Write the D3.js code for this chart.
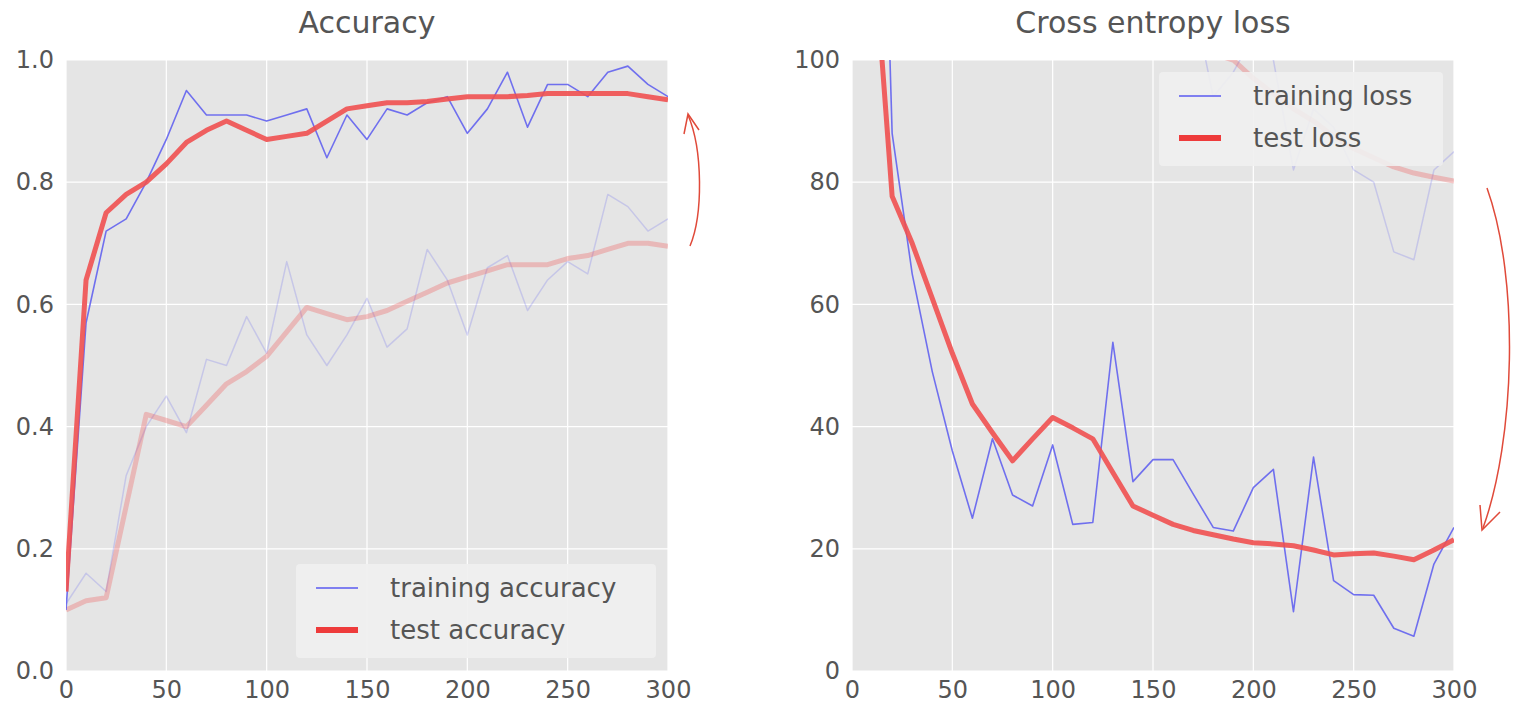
<!DOCTYPE html>
<html><head><meta charset="utf-8">
<script src="https://cdn.jsdelivr.net/npm/d3@7"></script>
<style>body{margin:0;background:#fff;font-family:"DejaVu Sans",sans-serif}</style>
</head><body><svg id="c" width="1530" height="716"></svg>
<script>
// steps 0..300, every 10
const steps = d3.range(0, 301, 10);
const trainAcc = [0.10,0.57,0.72,0.74,0.80,0.87,0.95,0.91,0.91,0.91,0.90,0.91,0.92,0.84,0.91,0.87,0.92,0.91,0.93,0.94,0.88,0.92,0.98,0.89,0.96,0.96,0.94,0.98,0.99,0.96,0.94];
const testAcc = [0.13,0.64,0.75,0.78,0.80,0.83,0.865,0.885,0.90,0.885,0.87,0.875,0.88,0.90,0.92,0.925,0.93,0.93,0.932,0.936,0.94,0.94,0.94,0.942,0.945,0.945,0.945,0.945,0.945,0.94,0.935];
const trainAccOld = [0.11,0.16,0.13,0.32,0.40,0.45,0.39,0.51,0.50,0.58,0.52,0.67,0.55,0.50,0.55,0.61,0.53,0.56,0.69,0.64,0.55,0.66,0.68,0.59,0.64,0.67,0.65,0.78,0.76,0.72,0.74];
const testAccOld = [0.10,0.115,0.12,0.27,0.42,0.41,0.40,0.435,0.47,0.49,0.515,0.555,0.595,0.585,0.575,0.58,0.59,0.605,0.62,0.635,0.645,0.655,0.665,0.665,0.665,0.675,0.68,0.69,0.70,0.70,0.695];
const trainLoss = [260,200,88,65,49,36,25,38,28.8,27,37,24,24.3,53.8,31,34.6,34.6,29,23.5,22.9,30,33,9.7,35,14.8,12.5,12.4,7,5.7,17.5,23.5];
const testLoss = [250,122,77.7,70,61,52,43.7,39,34.4,38,41.5,39.8,38,32.5,27,25.5,24,23,22.3,21.6,21,20.8,20.5,19.8,19,19.2,19.3,18.8,18.2,19.8,21.5];
const trainLossOld = [420,330,260,220,200,180,165,150,140,130,125,120,118,115,112,110,108,110,94,98,104,100,82,92,89,82,80,68.6,67.3,82,85];
const testLossOld = [400,300,240,200,180,165,152,142,135,128,122,117,113,110,107,105,103.5,102,101,100,97,94.5,92,90,87.5,85.5,84,82.5,81.5,80.8,80.2];
const accTicks = [0,0.2,0.4,0.6,0.8,1.0];
const lossTicks = [0,20,40,60,80,100];
const xTicks = [0,50,100,150,200,250,300];

const svg = d3.select("#c");
const blue = "#5a5af0", red = "#f05050", txt = "#555";

function panel(x0, title, yDomain, yTicks, fmt, series, legend, id) {
  const x = d3.scaleLinear().domain([0,300]).range([x0, x0+602]);
  const y = d3.scaleLinear().domain(yDomain).range([671, 60]);
  svg.append("rect").attr("x", x0).attr("y", 60).attr("width", 602).attr("height", 611).attr("fill", "#e5e5e5");
  svg.append("clipPath").attr("id", id).append("rect").attr("x", x0).attr("y", 60).attr("width", 602).attr("height", 611);
  const g = svg.append("g");
  g.selectAll(".gx").data(xTicks).join("line").attr("x1", d => x(d)).attr("x2", d => x(d)).attr("y1", 60).attr("y2", 671).attr("stroke", "#fff").attr("stroke-width", 1.2);
  g.selectAll(".gy").data(yTicks).join("line").attr("y1", d => y(d)).attr("y2", d => y(d)).attr("x1", x0).attr("x2", x0+602).attr("stroke", "#fff").attr("stroke-width", 1.2);
  const ax = svg.append("g").attr("transform", "translate(0,671)").call(d3.axisBottom(x).tickValues(xTicks).tickSize(0).tickPadding(10));
  const ay = svg.append("g").attr("transform", `translate(${x0},0)`).call(d3.axisLeft(y).tickValues(yTicks).tickFormat(fmt).tickSize(0).tickPadding(12));
  [ax, ay].forEach(a => { a.select(".domain").remove(); a.selectAll("text").attr("fill", txt).style("font-size", "24px").style("font-family", "DejaVu Sans"); });
  svg.append("text").attr("x", x0+301).attr("y", 33).attr("text-anchor", "middle").attr("fill", txt).style("font-size", "30px").text(title);
  const line = d3.line().x((d, i) => x(steps[i])).y(d => y(d));
  const lg = svg.append("g").attr("clip-path", `url(#${id})`);
  series.forEach(s => lg.append("path").attr("d", line(s.v)).attr("fill", "none").attr("stroke", s.c).attr("stroke-width", s.w).attr("stroke-opacity", s.o).attr("stroke-linejoin", "round"));
  const L = svg.append("g").attr("transform", `translate(${legend.x},${legend.y})`);
  L.append("rect").attr("width", legend.w).attr("height", 94).attr("rx", 4).attr("fill", "#f0f0f0").attr("opacity", 0.9);
  legend.items.forEach((it, i) => {
    L.append("line").attr("x1", 20).attr("x2", 62).attr("y1", 24 + i*42).attr("y2", 24 + i*42).attr("stroke", it.c).attr("stroke-width", it.w);
    L.append("text").attr("x", 94).attr("y", 33 + i*42).attr("fill", txt).style("font-size", "26px").text(it.t);
  });
}

panel(66, "Accuracy", [0,1], accTicks, d3.format(".1f"), [
  {v: trainAccOld, c: blue, w: 1.5, o: 0.22},
  {v: testAccOld, c: red, w: 5, o: 0.3},
  {v: trainAcc, c: blue, w: 1.6, o: 0.85},
  {v: testAcc, c: red, w: 5, o: 0.9}
], {x: 296, y: 564, w: 360, items: [{t: "training accuracy", c: blue, w: 1.6}, {t: "test accuracy", c: "#ee3b3b", w: 6}]}, "cl1");

panel(852, "Cross entropy loss", [0,100], lossTicks, d3.format("d"), [
  {v: trainLossOld, c: blue, w: 1.5, o: 0.22},
  {v: testLossOld, c: red, w: 5, o: 0.3},
  {v: trainLoss, c: blue, w: 1.6, o: 0.85},
  {v: testLoss, c: red, w: 5, o: 0.9}
], {x: 1159, y: 72, w: 284, items: [{t: "training loss", c: blue, w: 1.6}, {t: "test loss", c: "#ee3b3b", w: 6}]}, "cl2");

// annotation arrows
const arrow = "#e04a3a";
svg.append("path").attr("d", "M690,246 C703,215 703,150 688,115").attr("fill", "none").attr("stroke", arrow).attr("stroke-width", 1.5);
svg.append("path").attr("d", "M684,134 L688,114 L699,130").attr("fill", "none").attr("stroke", arrow).attr("stroke-width", 1.5);
svg.append("path").attr("d", "M1487,188 C1520,280 1515,440 1483,528").attr("fill", "none").attr("stroke", arrow).attr("stroke-width", 1.5);
svg.append("path").attr("d", "M1480,505 L1482,530 L1500,512").attr("fill", "none").attr("stroke", arrow).attr("stroke-width", 1.5);
</script></body></html>
